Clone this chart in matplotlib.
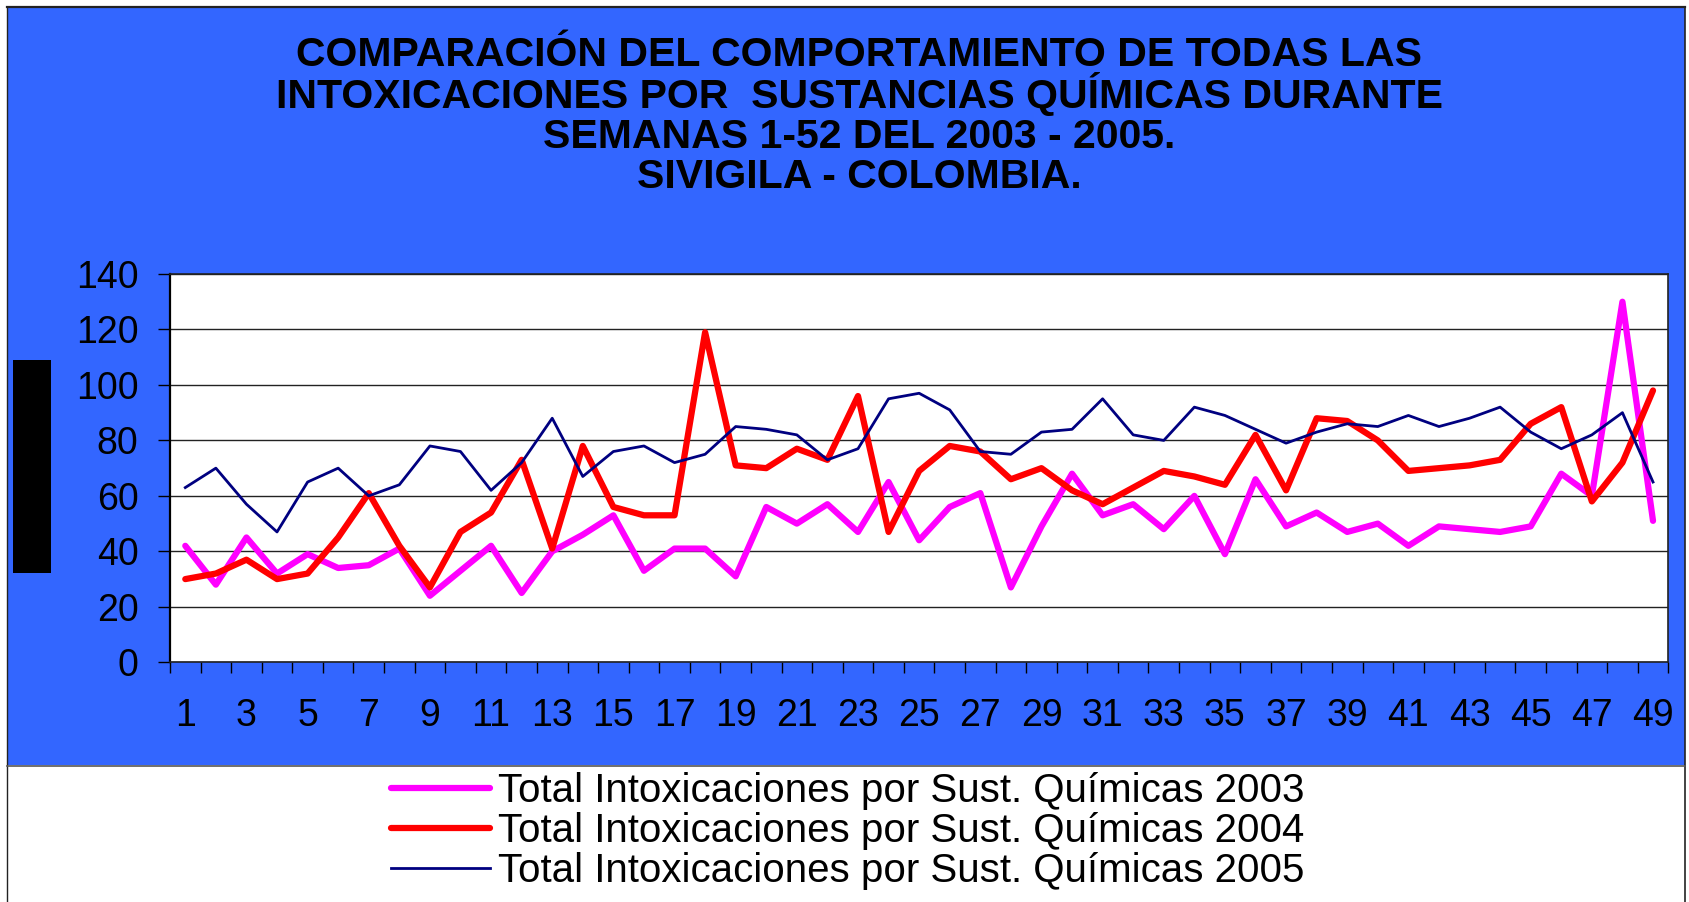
import matplotlib
matplotlib.use('Agg')
import matplotlib.pyplot as plt
from matplotlib.patches import Rectangle
from matplotlib.lines import Line2D

plt.rcParams['font.family'] = ['Liberation Sans', 'DejaVu Sans']

W, H = 1690, 902

semanas = list(range(1, 50))
total_2003 = [42, 28, 45, 32, 39, 34, 35, 41, 24, 33,
              42, 25, 40, 46, 53, 33, 41, 41, 31, 56,
              50, 57, 47, 65, 44, 56, 61, 27, 49, 68,
              53, 57, 48, 60, 39, 66, 49, 54, 47, 50,
              42, 49, 48, 47, 49, 68, 60, 130, 51]
total_2004 = [30, 32, 37, 30, 32, 45, 61, 42, 27, 47,
              54, 73, 41, 78, 56, 53, 53, 119, 71, 70,
              77, 73, 96, 47, 69, 78, 76, 66, 70, 62,
              57, 63, 69, 67, 64, 82, 62, 88, 87, 80,
              69, 70, 71, 73, 86, 92, 58, 72, 98]
total_2005 = [63, 70, 57, 47, 65, 70, 60, 64, 78, 76,
              62, 72, 88, 67, 76, 78, 72, 75, 85, 84,
              82, 73, 77, 95, 97, 91, 76, 75, 83, 84,
              95, 82, 80, 92, 89, 84, 79, 83, 86, 85,
              89, 85, 88, 92, 83, 77, 82, 90, 65]
etiquetas = ['Total Intoxicaciones por Sust. Químicas 2003',
             'Total Intoxicaciones por Sust. Químicas 2004',
             'Total Intoxicaciones por Sust. Químicas 2005']
titulo = ['COMPARACIÓN DEL COMPORTAMIENTO DE TODAS LAS',
          'INTOXICACIONES POR  SUSTANCIAS QUÍMICAS DURANTE',
          'SEMANAS 1-52 DEL 2003 - 2005.',
          'SIVIGILA - COLOMBIA.']
y_ticks = list(range(0, 141, 20))


def fx(x):
    return x / W


def fy(y):
    return 1 - y / H


fig = plt.figure(figsize=(W / 100, H / 100), dpi=100)
fig.patch.set_facecolor('white')

# blue chart area and white legend area below it
fig.add_artist(Rectangle((fx(7), fy(765)), fx(1685) - fx(7), fy(7) - fy(765),
                         facecolor='#3366FF', edgecolor='none', zorder=0))
fig.add_artist(Line2D([fx(7), fx(1685)], [fy(7), fy(7)], color='#222222', lw=1.6))
fig.add_artist(Line2D([fx(7), fx(7)], [fy(7), 0], color='#222222', lw=1.0))
fig.add_artist(Line2D([fx(1685), fx(1685)], [fy(7), 0], color='#222222', lw=1.2))
fig.add_artist(Line2D([fx(7), fx(1685)], [fy(765.5), fy(765.5)], color='#555555', lw=1.2))
# black block where the y axis title would be
fig.add_artist(Rectangle((fx(12.7), fy(572.7)), fx(51) - fx(12.7), fy(360) - fy(572.7),
                         facecolor='black', edgecolor='none'))

# title, one line at a time
for linea, base in zip(titulo, [66, 108, 147.5, 187.5]):
    fig.text(fx(859.5), fy(base), linea, ha='center', va='baseline',
             fontsize=29.5, fontweight='bold', color='black')

ax = fig.add_axes([fx(170), fy(662.3), fx(1668.3) - fx(170), fy(274) - fy(662.3)])
ax.set_facecolor('white')

ax.plot(semanas, total_2003, color='#FF00FF', lw=4.5, solid_joinstyle='round',
        solid_capstyle='round', label=etiquetas[0], zorder=3)
ax.plot(semanas, total_2004, color='#FF0000', lw=4.5, solid_joinstyle='round',
        solid_capstyle='round', label=etiquetas[1], zorder=4)
ax.plot(semanas, total_2005, color='#000080', lw=2.0, solid_joinstyle='round',
        label=etiquetas[2], zorder=5)

ax.set_xlim(0.5, 49.5)
ax.set_ylim(0, 140)
ax.set_yticks(y_ticks)
ax.set_yticklabels([str(v) for v in y_ticks])
ax.set_xticks(semanas[::2])
ax.set_xticklabels([str(s) for s in semanas[::2]])
ax.set_xticks([s + 0.5 for s in [0] + semanas], minor=True)
ax.tick_params(axis='x', which='major', length=0, pad=26, labelsize=27)
ax.tick_params(axis='x', which='minor', length=8, width=1, direction='out', color='black')
ax.tick_params(axis='y', length=8.6, width=1, direction='out', pad=14, labelsize=27,
               color='black')
ax.yaxis.grid(True, color='#222222', lw=1)
ax.set_axisbelow(True)
for s in ['top', 'right', 'bottom']:
    ax.spines[s].set_color('#222222')
    ax.spines[s].set_linewidth(1.2)
ax.spines['left'].set_color('black')
ax.spines['left'].set_linewidth(1.6)

fig.legend(loc='upper left', bbox_to_anchor=(fx(391), fy(772)), frameon=False,
           fontsize=29, handlelength=2.45, handletextpad=0.2, labelspacing=0.05,
           borderpad=0, borderaxespad=0)

fig.savefig('out.png', dpi=100, facecolor='white')
